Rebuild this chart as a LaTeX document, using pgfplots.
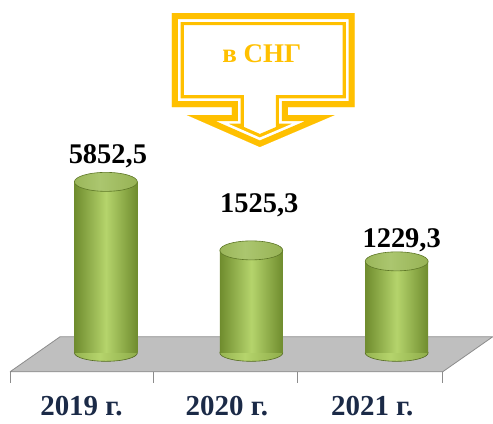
\documentclass[border=0pt]{standalone}
\usepackage{pgfplots}
\pgfplotsset{compat=1.18}
\usepackage{pgfplotstable}
\usepackage{fontspec}
\setmainfont{Liberation Serif}
\definecolor{gold}{HTML}{FFC000}
\definecolor{bardark}{HTML}{6F8C2E}
\definecolor{barlight}{HTML}{B5D46C}
\definecolor{topdark}{HTML}{86A23F}
\definecolor{toplight}{HTML}{ABC66F}
\definecolor{floorfill}{HTML}{BFBFBF}
\definecolor{flooredge}{HTML}{8C8C8C}
\definecolor{navy}{HTML}{1B2A47}

\pgfdeclarehorizontalshading{topshade}{100bp}{color(0bp)=(topdark); color(45bp)=(toplight); color(100bp)=(topdark)}
\pgfdeclarehorizontalshading{botshade}{100bp}{color(0bp)=(bardark); color(45bp)=(barlight); color(100bp)=(bardark)}

\pgfdeclareplotmark{cyltop}{%
  \pgfpathellipse{\pgfpointorigin}{\pgfqpoint{31.5pt}{0pt}}{\pgfqpoint{0pt}{9.5pt}}%
  \pgfshadepath{topshade}{0}%
  \pgfsetstrokecolor{bardark!85!black}\pgfsetlinewidth{0.6pt}%
  \pgfusepath{stroke}}
\pgfdeclareplotmark{cylbot}{%
  \pgfpathellipse{\pgfpointorigin}{\pgfqpoint{31.5pt}{0pt}}{\pgfqpoint{0pt}{8.5pt}}%
  \pgfshadepath{botshade}{0}%
  \pgfsetstrokecolor{bardark!75!black}\pgfsetlinewidth{0.6pt}%
  \pgfusepath{stroke}}

\pgfplotstableread{
x y label
0 5852.5 5852,5
1 1525.3 1525,3
2 1229.3 1229,3
}\data

\pgfplotsset{cyl/.style={ybar, bar shift=0pt, bar width=0.433, draw=none,
  left color=bardark, right color=bardark, middle color=barlight,
  nodes near coords, point meta=explicit symbolic,
  every node near coord/.append style={font=\fontsize{28.5}{34}\selectfont\bfseries, text=black, inner sep=0pt, yshift=14pt, xshift=2pt}}}

\begin{document}
\begin{tikzpicture}
\begin{axis}[name=ax, scale only axis, width=493pt, height=353pt,
  xmin=-0.7285, xmax=2.6598, ymode=log, ymin=204.2, ymax=207400,
  log origin y=infty, enlargelimits=false, clip=false, clip marker paths=true,
  axis line style={draw=none}, ytick=\empty,
  xtick={0,1,2}, xticklabels={2019 г., 2020 г., 2021 г.},
  major tick length=0pt,
  xticklabel style={font=\fontsize{29}{34}\selectfont\bfseries, text=navy, anchor=base, xshift=-24.5pt, yshift=-63pt}]
% floor
\addplot[fill=floorfill, draw=flooredge, line width=0.8pt] coordinates {(-0.6598,140.7) (2.3162,140.7) (2.6598,279.4) (-0.3162,279.4) (-0.6598,140.7)};
\addplot[flooredge, line width=0.8pt] coordinates {(-0.6598,140.7) (-0.6598,113.4)};
\addplot[flooredge, line width=0.8pt] coordinates {(0.3299,140.7) (0.3299,113.4)};
\addplot[flooredge, line width=0.8pt] coordinates {(1.3196,140.7) (1.3196,113.4)};
\addplot[flooredge, line width=0.8pt] coordinates {(2.3162,140.7) (2.3162,113.4)};
% cylinder bottoms
\addplot[only marks, mark=cylbot] coordinates {(0,204.2) (1,204.2) (2,204.2)};
% cylinder bodies
\addplot[cyl] coordinates {(0,5852.5) [5852,5]};
\addplot[cyl, every node near coord/.append style={yshift=19pt, xshift=6pt}] coordinates {(1,1525.3) [1525,3]};
\addplot[cyl, every node near coord/.append style={yshift=-5pt, xshift=3pt}] coordinates {(2,1229.3) [1229,3]};
% cylinder tops
\addplot[only marks, mark=cyltop] table[x=x, y=y] {\data};
\end{axis}
\begin{scope}[shift={(ax.north west)}, x=1pt, y=-1pt]
\path (0,0) (493,424);
\begin{scope}
\clip (172,13) -- (355,13) -- (355,107) -- (288,107) -- (288,115) -- (335,115) -- (260,147) -- (187,115) -- (232,115) -- (232,107) -- (172,107) -- cycle;
\fill[white] (172,13) -- (355,13) -- (355,107) -- (288,107) -- (288,115) -- (335,115) -- (260,147) -- (187,115) -- (232,115) -- (232,107) -- (172,107) -- cycle;
\draw[gold, line width=24pt, miter limit=20] (172,13) -- (355,13) -- (355,107) -- (288,107) -- (288,115) -- (335,115) -- (260,147) -- (187,115) -- (232,115) -- (232,107) -- (172,107) -- cycle;
\draw[white, line width=17.4pt, miter limit=20] (172,13) -- (355,13) -- (355,107) -- (288,107) -- (288,115) -- (335,115) -- (260,147) -- (187,115) -- (232,115) -- (232,107) -- (172,107) -- cycle;
\draw[gold, line width=12pt, miter limit=20] (172,13) -- (355,13) -- (355,107) -- (288,107) -- (288,115) -- (335,115) -- (260,147) -- (187,115) -- (232,115) -- (232,107) -- (172,107) -- cycle;
\end{scope}
\node[anchor=base, inner sep=0pt, text=gold, font=\fontsize{27}{32}\selectfont\bfseries] at (262,62) {в СНГ};
\end{scope}
\end{tikzpicture}
\end{document}
